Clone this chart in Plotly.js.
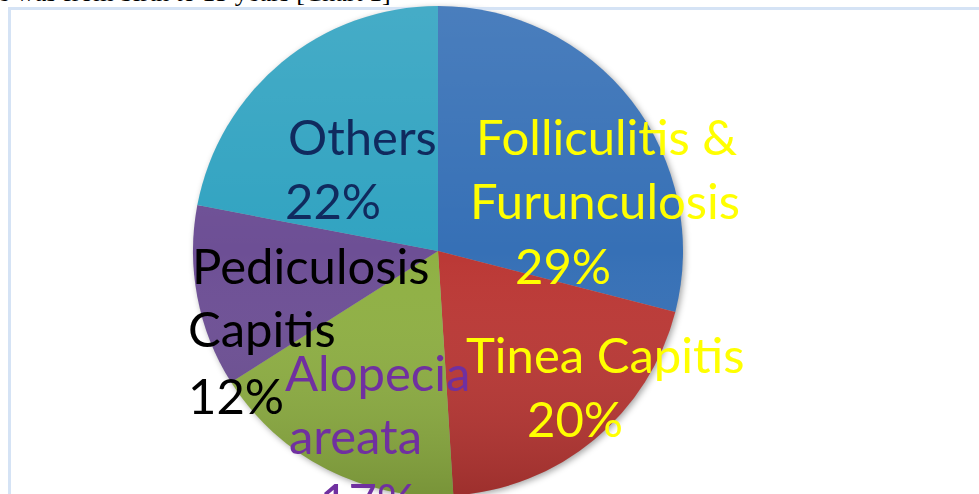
<!DOCTYPE html>
<html>
<head>
<meta charset="utf-8">
<script src="https://cdn.plot.ly/plotly-3.0.1.min.js"></script>
<style>
html,body{margin:0;padding:0;background:#fff;overflow:hidden;width:979px;height:494px;}
#chart{width:979px;height:496px;}
</style>
</head>
<body>
<div id="chart"></div>
<script>
// ---- data ----
const labels = ["Folliculitis & Furunculosis", "Tinea Capitis", "Alopecia areata", "Pediculosis Capitis", "Others"];
const values = [29, 20, 17, 12, 22];
const labelLines = [["Folliculitis &", "Furunculosis"], ["Tinea Capitis"], ["Alopecia", "areata"], ["Pediculosis", "Capitis"], ["Others"]];
const sliceColors = ["#3670b6", "#bb3835", "#8fb043", "#6d4f95", "#31a3c1"];
const labelColors = ["#ffff00", "#ffff00", "#7030a0", "#000000", "#102a5e"];
const headerText = "e was from birth to 15 years [Chart 1]";

// ---- layout helpers (pixel -> paper) ----
const W = 979, H = 496;
const px = x => x / W;
const py = y => 1 - y / H;

// per-line label anchor (centre x, baseline y) in pixels
const linePos = [
  [[606, 154], [605, 218], [563, 283]],
  [[605, 372], [575, 436]],
  [[377, 390], [355, 453], [368, 518]],
  [[310, 283], [262, 346], [236, 413]],
  [[362, 154], [333, 218]]
];

const FS = 49;
const annotations = [];
labels.forEach((lab, i) => {
  const lines = labelLines[i].concat([values[i] + "%"]);
  lines.forEach((t, j) => {
    const p = linePos[i][j];
    annotations.push({
      text: t, xref: "paper", yref: "paper",
      x: px(p[0]), y: py(p[1] - FS * 0.36),
      xanchor: "center", yanchor: "middle",
      showarrow: false, borderpad: 0,
      font: {family: "Lato, 'Open Sans', sans-serif", size: FS, color: labelColors[i]}
    });
  });
});
annotations.push({
  text: headerText, xref: "paper", yref: "paper",
  x: px(-3), y: py(8), xanchor: "left", yanchor: "bottom",
  showarrow: false, borderpad: 0,
  font: {family: "'Liberation Serif', serif", size: 26, color: "#000"}
});

// shading overlay (vertical light-to-dark gradient) and soft shadow
const shadeSvg = '<svg xmlns="http://www.w3.org/2000/svg" width="490" height="490" viewBox="0 0 490 490">' +
  '<defs><linearGradient id="g" x1="0" y1="0" x2="0" y2="1">' +
  '<stop offset="0" stop-color="#fff" stop-opacity="0.10"/>' +
  '<stop offset="0.5" stop-color="#fff" stop-opacity="0"/>' +
  '<stop offset="1" stop-color="#000" stop-opacity="0.16"/>' +
  '</linearGradient></defs><circle cx="245" cy="245" r="245" fill="url(#g)"/></svg>';
const shadowSvg = '<svg xmlns="http://www.w3.org/2000/svg" width="510" height="510" viewBox="0 0 510 510">' +
  '<defs><filter id="b" x="-10%" y="-10%" width="120%" height="120%"><feGaussianBlur stdDeviation="3"/></filter></defs>' +
  '<circle cx="257" cy="257" r="245" fill="#000" fill-opacity="0.35" filter="url(#b)"/></svg>';
const uri = s => "data:image/svg+xml;charset=utf-8," + encodeURIComponent(s);

const trace = {
  type: "pie",
  labels: labels,
  values: values,
  sort: false,
  direction: "clockwise",
  rotation: 0,
  textinfo: "none",
  hoverinfo: "label+percent",
  marker: {colors: sliceColors, line: {width: 0}},
  domain: {x: [px(193), px(683)], y: [py(496), py(6)]},
  showlegend: false
};

const layout = {
  width: W, height: H,
  margin: {l: 0, r: 0, t: 0, b: 0},
  paper_bgcolor: "#fff",
  showlegend: false,
  annotations: annotations,
  images: [
    {source: uri(shadowSvg), xref: "paper", yref: "paper", x: px(183), y: py(-4),
     sizex: 510 / W, sizey: 510 / H, xanchor: "left", yanchor: "top", sizing: "stretch", layer: "below"},
    {source: uri(shadeSvg), xref: "paper", yref: "paper", x: px(193), y: py(6),
     sizex: 490 / W, sizey: 490 / H, xanchor: "left", yanchor: "top", sizing: "stretch", layer: "above"}
  ],
  shapes: [{
    type: "rect", xref: "paper", yref: "paper", layer: "below",
    x0: px(9.5), x1: px(990), y0: py(520), y1: py(8.5),
    line: {color: "#d5e3f5", width: 3}
  }]
};

Plotly.newPlot("chart", [trace], layout, {staticPlot: true, displayModeBar: false});
</script>
</body>
</html>
